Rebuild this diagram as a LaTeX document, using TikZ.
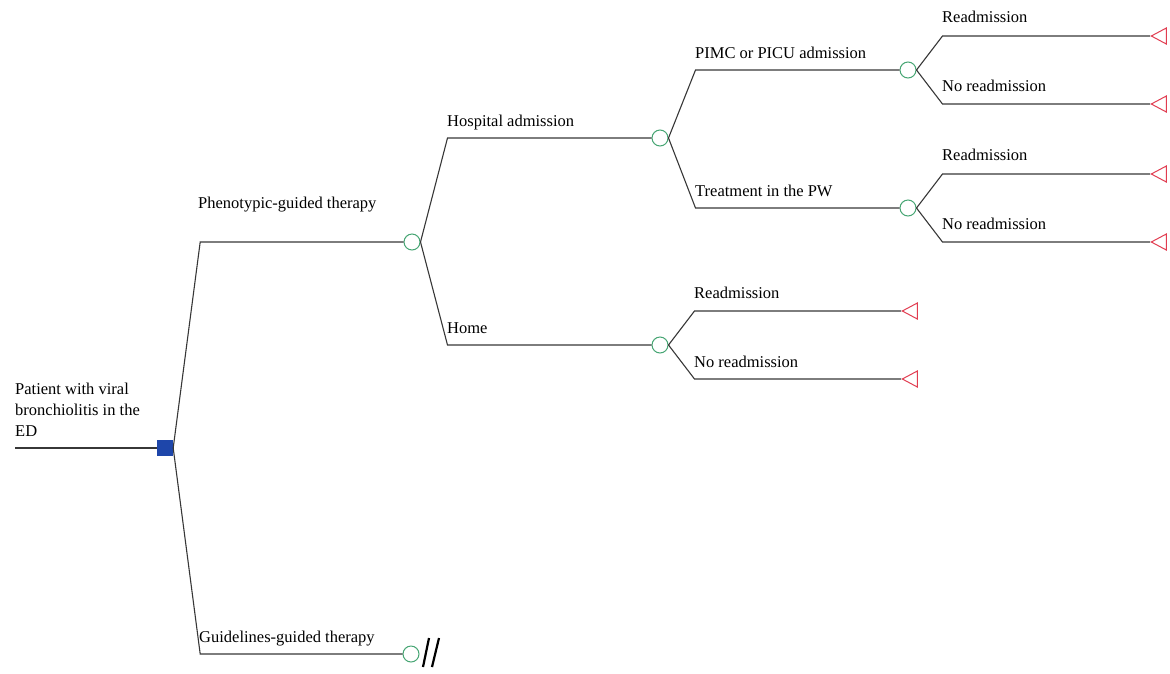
\documentclass[tikz,border=0pt]{standalone}
\usepackage{fontspec}
\setmainfont{Liberation Serif}
\usetikzlibrary{shapes.geometric}
\definecolor{linegray}{RGB}{55,55,55}
\definecolor{chancegreen}{RGB}{70,165,115}
\definecolor{termred}{RGB}{225,60,80}
\definecolor{decblue}{RGB}{30,70,170}
\tikzset{
    branch/.style={draw=linegray, line width=1.1pt},
    decision/.style={rectangle, fill=decblue, minimum size=16pt, inner sep=0pt},
    chance/.style={circle, draw=chancegreen, line width=1pt, fill=white, minimum size=16pt, inner sep=0pt},
    terminal/.style={isosceles triangle, isosceles triangle stretches, shape border rotate=180,
        draw=termred, line width=1pt, inner sep=0pt, minimum width=16pt, minimum height=15pt, anchor=apex},
    lbl/.style={anchor=base west, inner sep=0pt, font=\fontsize{16.5}{21}\selectfont},
}

\begin{document}
\begin{tikzpicture}[x=1pt, y=-1pt]
        \useasboundingbox (0,0) rectangle (1170,673);

        % root
        \coordinate (start) at (15,448);
        \node[decision] (dec) at (165,448) {};
        \node[lbl, align=left] (lroot) at (15,436) {Patient with viral\\bronchiolitis in the\\ED};
        \draw[branch] (start) -- (dec.west);

        % strategies
        \node[chance] (phen) at (412,242) {};
        \node[chance] (guide) at (411,654) {};
        \node[lbl] (lphen) at (198,208) {Phenotypic-guided therapy};
        \node[lbl] (lguide) at (199,642) {Guidelines-guided therapy};
        \draw[branch] (dec.east) -- ([xshift=27]dec.east |- phen) -- (phen.west);
        \draw[branch] (dec.east) -- ([xshift=27]dec.east |- guide) -- (guide.west);
        \draw[line width=2.2pt] ([shift={(18,-16)}]guide.center) -- ([shift={(12,13)}]guide.center);
        \draw[line width=2.2pt] ([shift={(28,-16)}]guide.center) -- ([shift={(21,13)}]guide.center);

        % hospital or home
        \node[chance] (hosp) at (660,138) {};
        \node[chance] (home) at (660,345) {};
        \node[lbl] (lhosp) at (447,126) {Hospital admission};
        \node[lbl] (lhome) at (447,333) {Home};
        \draw[branch] (phen.east) -- ([xshift=27]phen.east |- hosp) -- (hosp.west);
        \draw[branch] (phen.east) -- ([xshift=27]phen.east |- home) -- (home.west);

        % ward
        \node[chance] (picu) at (908,70) {};
        \node[chance] (pw) at (908,208) {};
        \node[lbl] (lpicu) at (695,58) {PIMC or PICU admission};
        \node[lbl] (lpw) at (695,196) {Treatment in the PW};
        \draw[branch] (hosp.east) -- ([xshift=27]hosp.east |- picu) -- (picu.west);
        \draw[branch] (hosp.east) -- ([xshift=27]hosp.east |- pw) -- (pw.west);

        % outcomes
        \node[terminal] (t1) at (1150,36) {};
        \node[terminal] (t2) at (1150,104) {};
        \node[terminal] (t3) at (1150,174) {};
        \node[terminal] (t4) at (1150,242) {};
        \node[terminal] (t5) at (901,311) {};
        \node[terminal] (t6) at (901,379) {};
        \node[lbl] (l1) at (942,22) {Readmission};
        \node[lbl] (l2) at (942,91) {No readmission};
        \node[lbl] (l3) at (942,160) {Readmission};
        \node[lbl] (l4) at (942,229) {No readmission};
        \node[lbl] (l5) at (694,298) {Readmission};
        \node[lbl] (l6) at (694,367) {No readmission};
        \draw[branch] (picu.east) -- ([xshift=26]picu.east |- t1) -- (t1.apex);
        \draw[branch] (picu.east) -- ([xshift=26]picu.east |- t2) -- (t2.apex);
        \draw[branch] (pw.east) -- ([xshift=26]pw.east |- t3) -- (t3.apex);
        \draw[branch] (pw.east) -- ([xshift=26]pw.east |- t4) -- (t4.apex);
        \draw[branch] (home.east) -- ([xshift=26]home.east |- t5) -- (t5.apex);
        \draw[branch] (home.east) -- ([xshift=26]home.east |- t6) -- (t6.apex);
    \end{tikzpicture}
\end{document}
